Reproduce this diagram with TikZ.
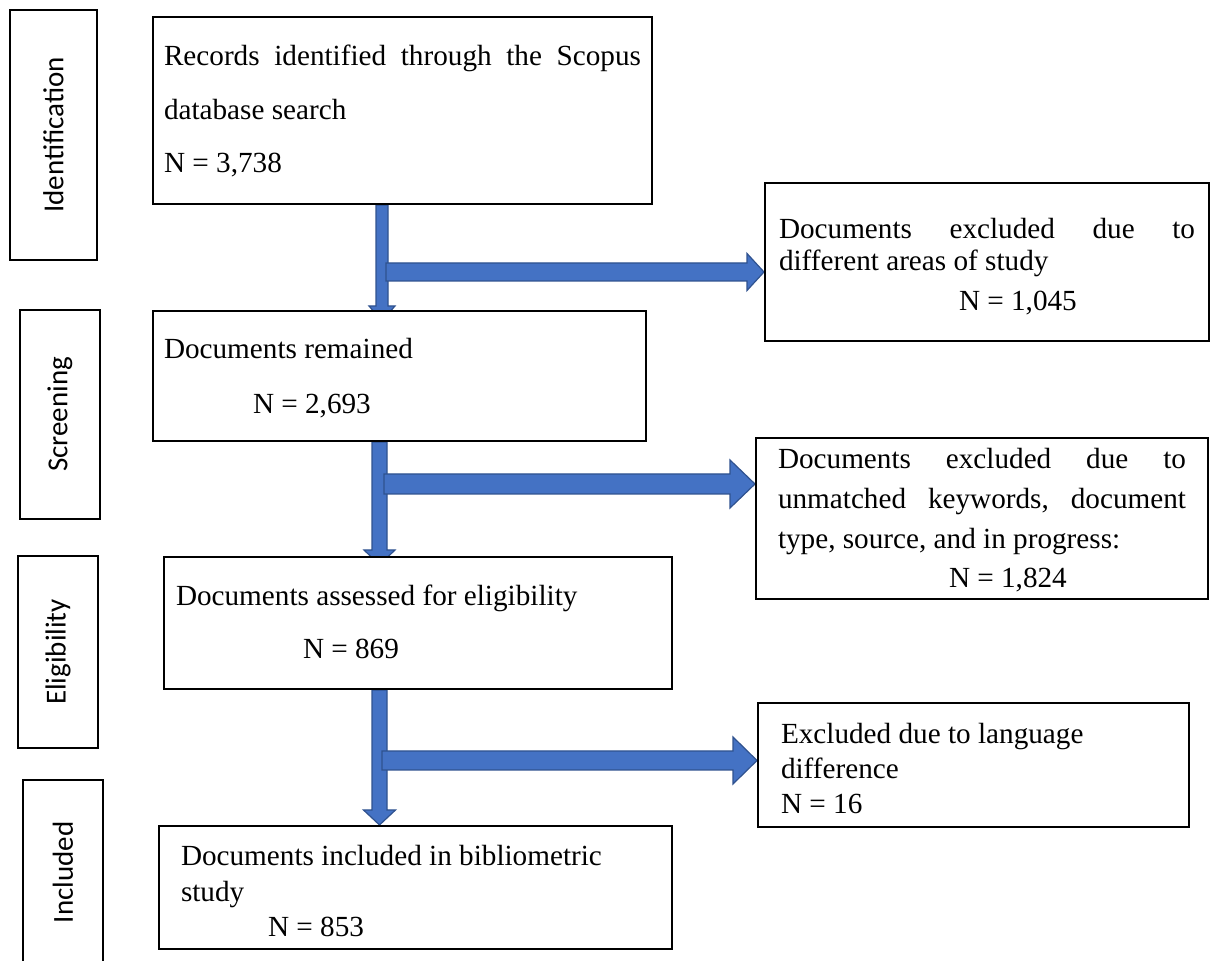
\documentclass[tikz,border=0pt]{standalone}
\usepackage{fontspec}
\setmainfont{Liberation Serif}
\newfontfamily\stagefont{Carlito}
\usepackage{xcolor}
\usepackage{tikz}
\usetikzlibrary{calc}
\usetikzlibrary{backgrounds}
\definecolor{wordblue}{HTML}{4472C4}
\definecolor{wordedge}{HTML}{2F528F}
\tikzstyle{flow} = [fill=wordblue,draw=wordedge,line width=0.6pt]
% block arrows: from, to, half shaft, half head, head length
\newcommand{\flowdown}[5]{%
  \draw[flow] let \p1=(#1), \p2=(#2) in
    (\x1-#3,\y1) -- (\x1-#3,\y2+#5) -- (\x1-#4,\y2+#5) -- (\x1,\y2)
    -- (\x1+#4,\y2+#5) -- (\x1+#3,\y2+#5) -- (\x1+#3,\y1) -- cycle;}
\newcommand{\flowright}[5]{%
  \draw[flow] let \p1=(#1), \p2=(#2) in
    (\x1,\y1+#3) -- (\x2-#5,\y1+#3) -- (\x2-#5,\y1+#4) -- (\x2,\y1)
    -- (\x2-#5,\y1-#4) -- (\x2-#5,\y1-#3) -- (\x1,\y1-#3) -- cycle;}

\begin{document}
\begin{tikzpicture}[x=0.5pt,y=-0.5pt,
  box/.style = {draw,line width=1pt,fill=white,anchor=north west,
  inner ysep=0pt,align=left,font=\fontsize{14.6pt}{26.75pt}\selectfont,
  execute at begin node=\spaceskip 0pt\relax\xspaceskip 0pt\relax},
  stage/.style = {draw,line width=1pt,rotate=90,inner sep=0pt,
  font=\stagefont\fontsize{14.5pt}{17pt}\selectfont}]
 \useasboundingbox (0,0) rectangle (1211,961);
 \node[stage,minimum width=125pt,minimum height=43.5pt] (s1) at (53.5,135) {Identification};
 \node[stage,minimum width=104.5pt,minimum height=40pt] (s2) at (60,414.5) {Screening};
 \node[stage,minimum width=96pt,minimum height=40pt] (s3) at (58,652) {Eligibility};
 \node[stage,minimum width=92.5pt,minimum height=40pt] (s4) at (63,872.5) {Included};

 \node[box,inner xsep=5.5pt,text width=238.5pt,text height=24.5pt,text depth=69pt] (b1) at (152,16)
  {\makebox[238.5pt][s]{Records\hfill identified\hfill through\hfill the\hfill Scopus}\\
   database search\\
   N = 3,738};
 \node[box,inner xsep=5.5pt,text width=235.5pt,text height=24pt,text depth=41pt,
  font=\fontsize{14.6pt}{27.5pt}\selectfont] (b2) at (152,310)
  {Documents remained\\ \hspace*{44.5pt}N = 2,693};
 \node[box,inner xsep=6pt,text width=242pt,text height=24.5pt,text depth=41.5pt,
  font=\fontsize{14.6pt}{26.5pt}\selectfont] (b3) at (163,556)
  {Documents assessed for eligibility\\ \hspace*{63.5pt}N = 869};
 \node[box,inner xsep=11pt,text width=234.5pt,text height=20pt,text depth=41.5pt,
  font=\fontsize{14.6pt}{17.75pt}\selectfont] (b4) at (158,825)
  {Documents included in bibliometric\\ study\\ \hspace*{43.5pt}N = 853};

 \node[box,inner xsep=7pt,text width=208pt,text height=28pt,text depth=51pt,
  font=\fontsize{14.6pt}{16pt}\selectfont] (e1) at (764,182)
  {\makebox[208pt][s]{Documents\hfill excluded\hfill due\hfill to}\\ different areas of study\\[4pt]
   \hspace*{90pt}N = 1,045};
 \node[box,inner xsep=11pt,text width=204pt,text height=15.5pt,text depth=65pt,
  font=\fontsize{14.6pt}{19.8pt}\selectfont] (e2) at (755,437)
  {\makebox[204pt][s]{Documents\hfill excluded\hfill due\hfill to}\\
   \makebox[204pt][s]{unmatched\hfill keywords,\hfill document}\\
   type, source, and in progress:\\ \hspace*{85.5pt}N = 1,824};
 \node[box,inner xsep=11.5pt,text width=192.5pt,text height=20.5pt,text depth=41.5pt,
  font=\fontsize{14.6pt}{17.5pt}\selectfont] (e3) at (757,702)
  {Excluded due to language\\ difference\\ N = 16};

 \coordinate (j1) at (382,272);
 \coordinate (j2) at (379.5,484);
 \coordinate (j3) at (379.5,760.5);
 \begin{scope}[on background layer]
  \flowdown{b1.south -| j1}{$(b2.north -| j1)+(0,11)$}{3pt}{6.5pt}{7.5pt}
  \flowdown{b2.south -| j2}{$(b3.north -| j2)+(0,9)$}{3.75pt}{7.75pt}{7.5pt}
  \flowdown{b3.south -| j3}{b4.north -| j3}{3.75pt}{8pt}{7.5pt}
  \flowright{$(j1)+(4,0)$}{j1 -| e1.west}{4.5pt}{9.25pt}{8.5pt}
  \flowright{$(j2)+(4.5,0)$}{j2 -| e2.west}{5pt}{12pt}{12.5pt}
  \flowright{$(j3)+(2.5,0)$}{j3 -| e3.west}{4.75pt}{11.75pt}{12pt}
 \end{scope}
\end{tikzpicture}
\end{document}
